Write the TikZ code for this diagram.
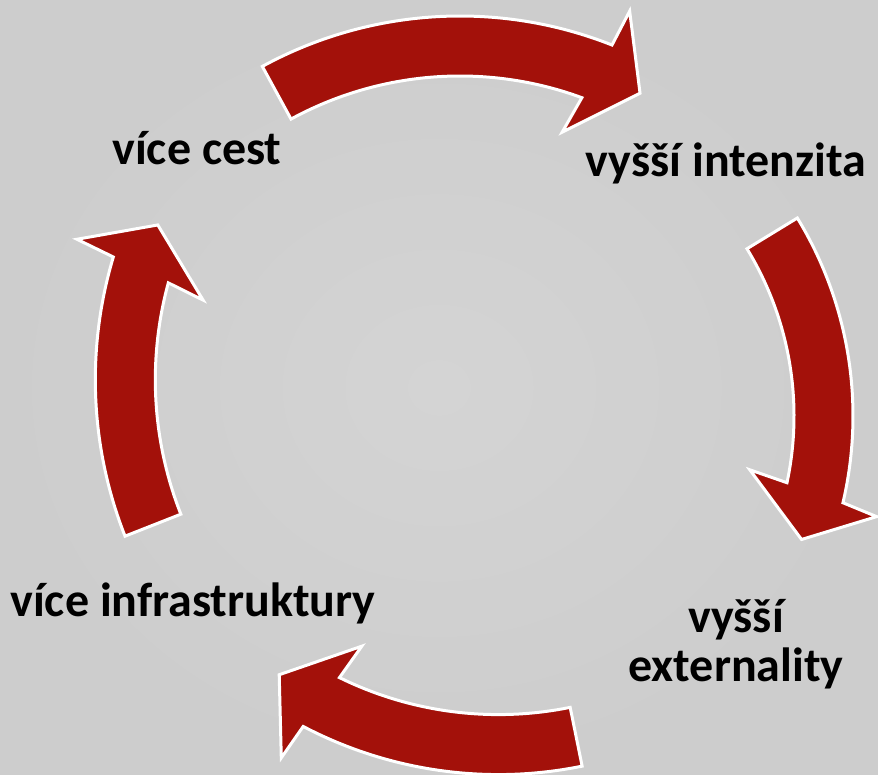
\documentclass[tikz,border=0pt]{standalone}
\usepackage{fontspec}
\setmainfont{Carlito}
\definecolor{arrowred}{RGB}{163,17,10}
\definecolor{bgin}{RGB}{212,212,212}
\definecolor{bgout}{RGB}{205,205,205}
\begin{document}
\begin{tikzpicture}[x=1pt,y=1pt,
  cyclearrow/.style={fill=arrowred, draw=white, line width=3pt, line join=miter},
  cyclelabel/.style={font=\fontsize{48}{49}\selectfont\bfseries, text=black, inner sep=0pt}]
\useasboundingbox (0,0) rectangle (878,775);
\shade[inner color=bgin, outer color=bgout] (0,0) rectangle (878,775);
% top arrow
\coordinate (c1) at (460,346);
\draw[cyclearrow] ([shift={(c1)}]118.6:413) arc[start angle=118.6,end angle=68.4,radius=413]
  -- ([shift={(c1)}]67.9:451) -- ([shift={(c1)}]61.8:381) -- ([shift={(c1)}]71.0:314)
  -- ([shift={(c1)}]69.8:353) arc[start angle=69.8,end angle=118.6,radius=353] -- cycle;
% right arrow
\coordinate (c2) at (473,359);
\draw[cyclearrow] ([shift={(c2)}]31.4:380) arc[start angle=31.4,end angle=-13.2,radius=380]
  -- ([shift={(c2)}]-14.0:416) -- ([shift={(c2)}]-20.6:351) -- ([shift={(c2)}]-11.0:282)
  -- ([shift={(c2)}]-12.0:321) arc[start angle=-12.0,end angle=31.4,radius=321] -- cycle;
% bottom arrow
\coordinate (c3) at (498.4,420.4);
\draw[cyclearrow] ([shift={(c3)}]281.5:420) arc[start angle=281.5,end angle=242.3,radius=420]
  -- ([shift={(c3)}]241.7:458) -- ([shift={(c3)}]235.6:388) -- ([shift={(c3)}]244.9:322)
  -- ([shift={(c3)}]243.8:360) arc[start angle=243.8,end angle=281.5,radius=360] -- cycle;
% left arrow
\coordinate (c4) at (522.3,395.3);
\draw[cyclearrow] ([shift={(c4)}]201.5:427) arc[start angle=201.5,end angle=163.3,radius=427]
  -- ([shift={(c4)}]162.5:467) -- ([shift={(c4)}]157.0:396) -- ([shift={(c4)}]166.0:329)
  -- ([shift={(c4)}]164.7:367) arc[start angle=164.7,end angle=201.5,radius=367] -- cycle;
% labels
\node[cyclelabel, anchor=base] (cest) at (197,610) {více cest};
\node[cyclelabel, anchor=base] (intenzita) at (726,598) {vyšší intenzita};
\node[cyclelabel, anchor=base] (infra) at (193,158) {více infrastruktury};
\node[cyclelabel, anchor=base, align=center] (ext) at (736,93) {vyšší\\externality};
\end{tikzpicture}
\end{document}
